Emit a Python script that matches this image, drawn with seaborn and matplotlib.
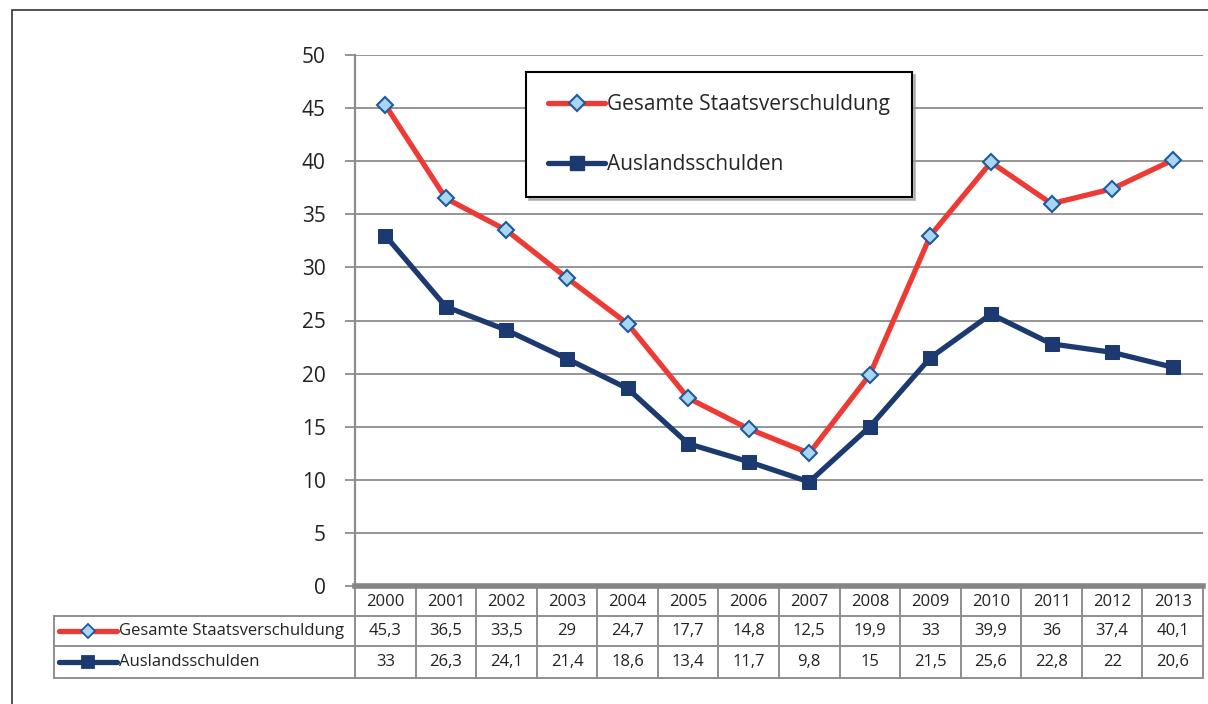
import matplotlib
matplotlib.use("Agg")
import matplotlib.pyplot as plt
import matplotlib.transforms as mtransforms
from matplotlib.patches import Rectangle
from matplotlib.lines import Line2D
import seaborn as sns
import pandas as pd

years = [2000, 2001, 2002, 2003, 2004, 2005, 2006, 2007, 2008, 2009, 2010, 2011, 2012, 2013]
gesamt = [45.3, 36.5, 33.5, 29, 24.7, 17.7, 14.8, 12.5, 19.9, 33, 39.9, 36, 37.4, 40.1]
ausland = [33, 26.3, 24.1, 21.4, 18.6, 13.4, 11.7, 9.8, 15, 21.5, 25.6, 22.8, 22, 20.6]
series_names = ["Gesamte Staatsverschuldung", "Auslandsschulden"]
gesamt_labels = ["45,3", "36,5", "33,5", "29", "24,7", "17,7", "14,8", "12,5", "19,9", "33", "39,9", "36", "37,4", "40,1"]
ausland_labels = ["33", "26,3", "24,1", "21,4", "18,6", "13,4", "11,7", "9,8", "15", "21,5", "25,6", "22,8", "22", "20,6"]
yticks = [0, 5, 10, 15, 20, 25, 30, 35, 40, 45, 50]

sns.set_theme(style="white")
plt.rcParams["font.family"] = ["Open Sans", "DejaVu Sans"]

RED = "#ee3a34"
BLUE = "#1c3a70"
LIGHT = "#a9d6f2"
GRID = "#8c8c8c"
LW = 3.8

df = pd.DataFrame({
    "pos": list(range(len(years))) * 2,
    "value": gesamt + ausland,
    "series": [series_names[0]] * len(years) + [series_names[1]] * len(years),
})

fig = plt.figure(figsize=(12.08, 7.04), dpi=100)
ax = fig.add_axes([355 / 1208, 1 - 586 / 704, 848 / 1208, 531 / 704])

sns.lineplot(data=df, x="pos", y="value", hue="series", style="series",
             palette={series_names[0]: RED, series_names[1]: BLUE},
             markers={series_names[0]: "D", series_names[1]: "s"},
             dashes=False, linewidth=LW, ax=ax, legend=False, zorder=3)
lines = ax.get_lines()
l_red, l_blue = lines[0], lines[1]
l_red.set_markerfacecolor(LIGHT); l_red.set_markeredgecolor("#1f5a9c")
l_red.set_markersize(8); l_red.set_markeredgewidth(1.5)
l_blue.set_markerfacecolor(BLUE); l_blue.set_markeredgecolor(BLUE)
l_blue.set_markersize(9.5)

ax.set_xlim(-0.5, len(years) - 0.5)
ax.set_ylim(0, 50)
ax.set_yticks(yticks)
ax.set_yticklabels([str(v) for v in yticks], fontsize=15, color="#222222")
ax.set_xticks([])
ax.set_xlabel("")
ax.set_ylabel("")
ax.yaxis.grid(True, color=GRID, linewidth=1.3)
ax.set_axisbelow(True)
for s in ["top", "right"]:
    ax.spines[s].set_visible(False)
ax.spines["left"].set_color(GRID)
ax.spines["left"].set_linewidth(1.6)
ax.spines["bottom"].set_color("#858585")
ax.spines["bottom"].set_linewidth(4)
ax.tick_params(axis="y", left=True, length=7, width=1.3, color=GRID, pad=14)

# Legend
handles = [
    Line2D([], [], color=RED, lw=LW, marker="D", markersize=8, markerfacecolor=LIGHT,
           markeredgecolor="#1f5a9c", markeredgewidth=1.5),
    Line2D([], [], color=BLUE, lw=LW, marker="s", markersize=9.5,
           markerfacecolor=BLUE, markeredgecolor=BLUE),
]
leg = fig.legend(handles, series_names, loc="upper left",
                 bbox_to_anchor=(526 / 1208, 1 - 72 / 704), fontsize=15,
                 frameon=True, fancybox=False, shadow={"color": "#999999", "alpha": 0.6},
                 edgecolor="black", framealpha=1, handlelength=2.75, handletextpad=0.1,
                 labelspacing=1.9, borderpad=1.05, borderaxespad=0)
leg.get_frame().set_linewidth(1.5)

# Data table below the axes
trans = mtransforms.blended_transform_factory(ax.transData, ax.transAxes)
px = 1 / 531.0
row_edges = [-2 * px, -30 * px, -60 * px, -92 * px]
left_x = -5.47
n = len(years)
tbl_col = "#8e8e8e"
for i in range(n + 1):
    ax.add_line(Line2D([i - 0.5, i - 0.5], [row_edges[0], row_edges[3]], transform=trans,
                       color=tbl_col, lw=1.4, clip_on=False))
ax.add_line(Line2D([left_x, left_x], [row_edges[1], row_edges[3]], transform=trans,
                   color=tbl_col, lw=1.4, clip_on=False))
for k in (1, 2, 3):
    ax.add_line(Line2D([left_x, n - 0.5], [row_edges[k]] * 2, transform=trans, color=tbl_col,
                       lw=1.4, clip_on=False))

fs = 12
for i, yr in enumerate(years):
    ax.text(i, (row_edges[0] + row_edges[1]) / 2, str(yr), transform=trans, ha="center", va="center",
            fontsize=fs, color="#222222", clip_on=False)
    ax.text(i, (row_edges[1] + row_edges[2]) / 2, gesamt_labels[i], transform=trans, ha="center",
            va="center", fontsize=fs, color="#222222", clip_on=False)
    ax.text(i, (row_edges[2] + row_edges[3]) / 2, ausland_labels[i], transform=trans, ha="center",
            va="center", fontsize=fs, color="#222222", clip_on=False)

for r, (h, name) in enumerate(zip(handles, series_names)):
    yc = (row_edges[r + 1] + row_edges[r + 2]) / 2
    ax.add_line(Line2D([left_x + 0.08, left_x + 1.04], [yc, yc], transform=trans, color=h.get_color(),
                       lw=LW, clip_on=False))
    ax.add_line(Line2D([left_x + 0.56], [yc], transform=trans, marker=h.get_marker(),
                       markersize=h.get_markersize() * 0.85, markerfacecolor=h.get_markerfacecolor(),
                       markeredgecolor=h.get_markeredgecolor(), markeredgewidth=1.3, clip_on=False))
    ax.text(left_x + 1.07, yc, name, transform=trans, ha="left", va="center", fontsize=fs,
            color="#222222", clip_on=False)

# outer frame
fig.patches.append(Rectangle((12 / 1208, -0.05), 1.1, 1 - 10 / 704 + 0.05, transform=fig.transFigure,
                             fill=False, edgecolor="#333333", lw=1.2, figure=fig))

fig.savefig("out.png", dpi=100)
